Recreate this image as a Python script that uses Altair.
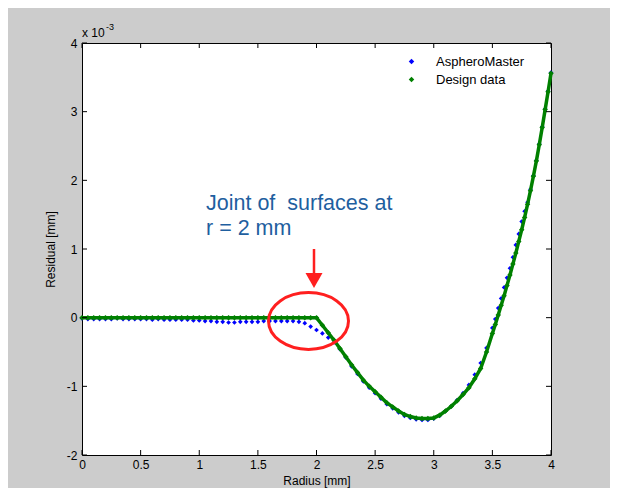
import altair as alt
import pandas as pd

# ---------------- data (residual in units of 1e-3 mm) ----------------
radius = [
    0.00, 0.05, 0.10, 0.15, 0.20, 0.25, 0.30, 0.35, 0.40, 0.45,
    0.50, 0.55, 0.60, 0.65, 0.70, 0.75, 0.80, 0.85, 0.90, 0.95,
    1.00, 1.05, 1.10, 1.15, 1.20, 1.25, 1.30, 1.35, 1.40, 1.45,
    1.50, 1.55, 1.60, 1.65, 1.70, 1.75, 1.80, 1.85, 1.90, 1.95,
    2.00, 2.05, 2.10, 2.15, 2.20, 2.25, 2.30, 2.35, 2.40, 2.45,
    2.50, 2.55, 2.60, 2.65, 2.70, 2.75, 2.80, 2.85, 2.90, 2.95,
    3.00, 3.05, 3.10, 3.15, 3.20, 3.25, 3.30, 3.35, 3.40, 3.45,
    3.50, 3.525, 3.55, 3.575, 3.60, 3.625, 3.65, 3.675, 3.70, 3.725,
    3.75, 3.775, 3.80, 3.825, 3.85, 3.875, 3.90, 3.925, 3.95, 3.975,
    4.00,
]

design_data = [
    0.00, 0.00, 0.00, 0.00, 0.00, 0.00, 0.00, 0.00, 0.00, 0.00,
    0.00, 0.00, 0.00, 0.00, 0.00, 0.00, 0.00, 0.00, 0.00, 0.00,
    0.00, 0.00, 0.00, 0.00, 0.00, 0.00, 0.00, 0.00, 0.00, 0.00,
    0.00, 0.00, 0.00, 0.00, 0.00, 0.00, 0.00, 0.00, 0.00, 0.00,
    0.00, -0.11, -0.22, -0.33, -0.45, -0.57, -0.69, -0.80, -0.91, -1.00,
    -1.08, -1.16, -1.24, -1.30, -1.36, -1.41, -1.44, -1.46, -1.47, -1.47,
    -1.46, -1.42, -1.36, -1.29, -1.21, -1.12, -1.02, -0.89, -0.74, -0.50,
    -0.23, -0.10, 0.04, 0.18, 0.32, 0.47, 0.62, 0.78, 0.94, 1.11,
    1.28, 1.46, 1.65, 1.85, 2.06, 2.28, 2.52, 2.77, 3.03, 3.29,
    3.56,
]

aspheromaster = [
    -0.01, -0.02, -0.02, -0.02, -0.02, -0.02, -0.01, -0.02, -0.02, -0.02,
    -0.02, -0.02, -0.03, -0.02, -0.03, -0.03, -0.03, -0.03, -0.03, -0.04,
    -0.04, -0.05, -0.05, -0.06, -0.06, -0.07, -0.07, -0.06, -0.06, -0.06,
    -0.06, -0.05, -0.05, -0.05, -0.05, -0.05, -0.05, -0.06, -0.08, -0.13,
    -0.18, -0.23, -0.29, -0.36, -0.46, -0.58, -0.71, -0.82, -0.93, -1.02,
    -1.10, -1.18, -1.26, -1.32, -1.38, -1.43, -1.46, -1.48, -1.49, -1.49,
    -1.47, -1.43, -1.36, -1.29, -1.20, -1.10, -0.98, -0.83, -0.66, -0.44,
    -0.15, -0.02, 0.14, 0.28, 0.44, 0.58, 0.72, 0.88, 1.06, 1.22,
    1.40, 1.55, 1.68, 1.87, 2.07, 2.29, 2.53, 2.78, 3.04, 3.30,
    3.57,
]

series_names = ["AspheroMaster", "Design data"]
series_colors = ["#0000ff", "#008000"]

x_ticks = [0, 0.5, 1, 1.5, 2, 2.5, 3, 3.5, 4]
y_ticks = [-2, -1, 0, 1, 2, 3, 4]

annotation_lines = ["Joint of\u00a0 surfaces at", "r = 2 mm"]

# ---------------- build tables ----------------
df_master = pd.DataFrame({"radius": radius, "residual": aspheromaster, "series": series_names[0]})
df_design = pd.DataFrame({"radius": radius, "residual": design_data, "series": series_names[1]})
df_xt = pd.DataFrame({"radius": x_ticks})
df_yt = pd.DataFrame({"residual": y_ticks})

W, H = 469, 412
FONT = "Liberation Sans"

xscale = alt.Scale(domain=[0, 4], nice=False, zero=False)
yscale = alt.Scale(domain=[-2, 4], nice=False, zero=False)
cscale = alt.Scale(domain=series_names, range=series_colors)

x_axis = alt.Axis(values=x_ticks, title="Radius [mm]", labelExpr="'' + datum.value",
                  labelPadding=4, titlePadding=5, labelFlush=False)
y_axis = alt.Axis(values=y_ticks, title="Residual [mm]", labelExpr="'' + datum.value",
                  labelPadding=5, titlePadding=9, labelFlush=False)
x_enc = alt.X("radius:Q", scale=xscale, axis=x_axis)
y_enc = alt.Y("residual:Q", scale=yscale, axis=y_axis)

legend = alt.Legend(title=None, orient="none", legendX=323, legendY=12,
                    symbolType="diamond", symbolSize=30, symbolStrokeWidth=0,
                    labelFont=FONT, labelFontSize=13, labelOffset=18,
                    rowPadding=4, labelColor="#000000")

master = alt.Chart(df_master).mark_point(shape="diamond", filled=True, size=22, opacity=1).encode(
    x=x_enc, y=y_enc,
    color=alt.Color("series:N", scale=cscale, legend=legend),
)

design_line = alt.Chart(df_design).mark_line(color="#008000", strokeWidth=3.5).encode(
    x=x_enc, y=y_enc,
)

design_pts = alt.Chart(df_design).mark_point(shape="diamond", filled=True, size=30, opacity=1).encode(
    x=x_enc, y=y_enc,
    color=alt.Color("series:N", scale=cscale, legend=legend),
)

# inward ticks on all four sides (Matlab style)
tick_len = 5
xt_bottom = alt.Chart(df_xt).mark_rule(color="black", strokeWidth=1).encode(
    x=x_enc, y=alt.value(H), y2=alt.value(H - tick_len))
xt_top = alt.Chart(df_xt).mark_rule(color="black", strokeWidth=1).encode(
    x=x_enc, y=alt.value(0), y2=alt.value(tick_len))
yt_left = alt.Chart(df_yt).mark_rule(color="black", strokeWidth=1).encode(
    y=y_enc, x=alt.value(0), x2=alt.value(tick_len))
yt_right = alt.Chart(df_yt).mark_rule(color="black", strokeWidth=1).encode(
    y=y_enc, x=alt.value(W), x2=alt.value(W - tick_len))

# exponent label above the y axis
exp_base = alt.Chart(pd.DataFrame({"t": ["x 10"]})).mark_text(
    align="left", baseline="middle", font=FONT, fontSize=12, color="#000000"
).encode(text="t:N", x=alt.value(0), y=alt.value(-10))
exp_sup = alt.Chart(pd.DataFrame({"t": ["-3"]})).mark_text(
    align="left", baseline="middle", font=FONT, fontSize=9, color="#000000"
).encode(text="t:N", x=alt.value(24), y=alt.value(-16))

# annotation
ann1 = alt.Chart(pd.DataFrame({"t": [annotation_lines[0]]})).mark_text(
    align="left", baseline="middle", font=FONT, fontSize=21.5, color="#1f5f9f"
).encode(text="t:N", x=alt.value(124), y=alt.value(161))
ann2 = alt.Chart(pd.DataFrame({"t": [annotation_lines[1]]})).mark_text(
    align="left", baseline="middle", font=FONT, fontSize=21.5, color="#1f5f9f"
).encode(text="t:N", x=alt.value(124), y=alt.value(186))

RED = "#ff1f1f"
arrow_shaft = alt.Chart(pd.DataFrame({"a": [0]})).mark_rule(color=RED, strokeWidth=2.5).encode(
    x=alt.value(232), y=alt.value(206), y2=alt.value(232))
arrow_head = alt.Chart(pd.DataFrame({"a": [0]})).mark_point(
    shape="M -1 -0.88 L 1 -0.88 L 0 0.88 Z", filled=True, size=289, color=RED, opacity=1
).encode(x=alt.value(232), y=alt.value(237.5))

ellipse_path = ("M 1 0 C 1 0.392 0.552 0.71 0 0.71 C -0.552 0.71 -1 0.392 -1 0 "
                "C -1 -0.392 -0.552 -0.71 0 -0.71 C 0.552 -0.71 1 -0.392 1 0 Z")
ellipse = alt.Chart(pd.DataFrame({"a": [0]})).mark_point(
    shape=ellipse_path, filled=False, size=6400, color=RED, strokeWidth=3, opacity=1
).encode(x=alt.value(226.5), y=alt.value(278))

chart = alt.layer(
    master, design_line, design_pts,
    xt_bottom, xt_top, yt_left, yt_right,
    exp_base, exp_sup, ann1, ann2, arrow_shaft, arrow_head, ellipse,
).properties(
    width=W, height=H,
    background="#cccccc",
    padding={"left": 74, "top": 35, "right": 59, "bottom": 33},
    autosize=alt.AutoSizeParams(type="none"),
).configure_view(
    stroke="black", strokeWidth=1, fill="white"
).configure_axis(
    labelFont=FONT, labelFontSize=12, labelColor="#000000",
    titleFont=FONT, titleFontSize=12, titleFontWeight="normal", titleColor="#000000",
    ticks=False, domain=False, grid=False,
).configure_legend(
    fillColor="white", padding=0,
)

chart.save("out.html", embed_options={"renderer": "svg", "actions": False})
